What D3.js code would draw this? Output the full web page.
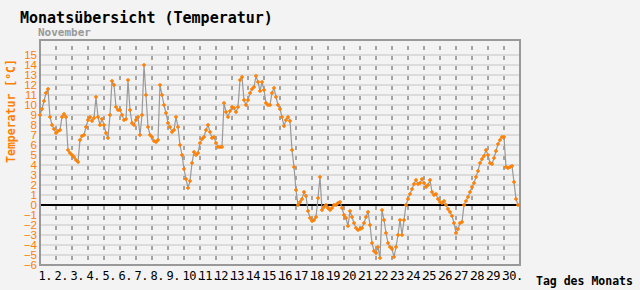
<!DOCTYPE html>
<html>
<head>
<meta charset="utf-8">
<script src="https://cdn.jsdelivr.net/npm/d3@7"></script>
<style>
  body { margin: 0; background: #f3f3f3; }
  svg { display: block; }
</style>
</head>
<body>
<script>
// Temperatur, 8 Werte pro Tag (alle 3 Stunden), November
var temps = [
  [9.0, 9.6, 10.4, 11.2, 11.6, 8.8, 8.0, 7.6],     // 1.
  [7.2, 7.4, 7.5, 8.8, 9.1, 8.8, 5.5, 5.2],        // 2.
  [5.0, 4.8, 4.5, 4.3, 6.5, 6.9, 7.0, 7.8],        // 3.
  [8.5, 8.8, 8.4, 8.7, 10.8, 8.8, 8.0, 8.6],       // 4.
  [8.0, 7.2, 6.7, 9.0, 12.4, 12.0, 9.8, 9.5],      // 5.
  [9.5, 9.0, 8.5, 8.6, 12.5, 9.5, 8.2, 8.0],       // 6.
  [8.5, 8.8, 7.0, 9.0, 14.0, 11.0, 7.8, 7.0],      // 7.
  [6.8, 6.4, 6.3, 6.5, 12.0, 11.0, 10.0, 9.2],     // 8.
  [8.2, 7.8, 7.3, 7.5, 8.8, 7.8, 6.0, 5.0],        // 9.
  [3.6, 2.6, 1.7, 2.4, 4.2, 5.3, 5.0, 5.2],        // 10.
  [6.2, 6.6, 6.8, 7.5, 8.0, 7.3, 6.7, 6.8],        // 11.
  [6.2, 5.8, 5.8, 5.8, 10.2, 9.3, 8.8, 9.4],       // 12.
  [9.8, 9.7, 9.3, 9.8, 12.5, 12.8, 10.5, 10.0],    // 13.
  [10.5, 11.2, 11.6, 11.8, 12.9, 12.3, 11.4, 12.3],// 14.
  [11.5, 10.2, 10.0, 10.0, 11.2, 11.7, 10.8, 10.0],// 15.
  [9.6, 8.8, 7.9, 8.5, 8.8, 8.4, 5.5, 3.8],        // 16.
  [1.5, 0.0, 0.3, 0.6, 1.3, 0.9, -0.6, -1.3],      // 17.
  [-1.6, -1.5, -1.2, 0.7, 2.8, -0.5, -0.2, 0.0],   // 18.
  [-0.3, -0.5, -0.3, 0.0, 0.0, 0.2, 0.3, -0.3],    // 19.
  [-1.0, -1.3, -2.1, -0.6, -1.2, -1.8, -2.3, -2.5],// 20.
  [-2.4, -2.3, -1.8, -1.2, -0.7, -2.0, -3.8, -4.6],// 21.
  [-4.8, -4.2, -5.3, -0.5, -1.5, -2.8, -3.8, -4.2],// 22.
  [-4.4, -5.2, -4.2, -3.0, -1.5, -3.0, -1.5, 0.0], // 23.
  [0.6, 1.1, 1.6, 2.1, 2.5, 2.1, 2.2, 2.6],        // 24.
  [2.2, 1.8, 2.0, 2.5, 1.3, 1.0, 1.1, 0.6],        // 25.
  [0.3, 0.2, 0.4, 0.0, -0.4, -0.7, -1.1, -1.8],    // 26.
  [-2.8, -2.4, -1.8, -1.7, 0.0, 0.4, 0.8, 1.3],    // 27.
  [1.8, 2.2, 2.8, 3.4, 4.2, 4.6, 4.9, 5.5],        // 28.
  [5.0, 4.2, 4.1, 4.7, 5.4, 6.1, 6.5, 6.8],        // 29.
  [6.8, 3.8, 3.7, 3.8, 3.9, 2.3, 0.6, 0.0]         // 30.
];

var days   = d3.range(1, 31);
var yTicks = d3.range(-6, 16);

var WIDTH  = 640;
var HEIGHT = 290;
var ORANGE = '#ff8000';

var svg = d3.select('body')
            .append('svg')
            .attr('width', WIDTH)
            .attr('height', HEIGHT)
            .style('background', '#f3f3f3');

var x = d3.scaleLinear()
          .domain([1, 31])
          .range([40, 520]);

var y = d3.scaleLinear()
          .domain([-6, 16.5])
          .range([265, 40]);

// punkte: tag + anteil
var points = [];
temps.forEach(function(row, i) {
    row.forEach(function(v, k) {
        points.push({ t: days[i] + k / row.length, v: v });
    });
});

// horizontale gitterlinien
svg.append('g')
   .selectAll('line')
   .data(yTicks)
   .enter()
 .append('line')
   .attr('x1', 40)
   .attr('x2', 520)
   .attr('y1', function(d) { return y(d); })
   .attr('y2', function(d) { return y(d); })
   .attr('stroke', '#c4c4c4')
   .attr('stroke-width', 1);

// gestrichelte tageslinien
svg.append('g')
   .selectAll('line')
   .data(days.slice(1))
   .enter()
 .append('line')
   .attr('x1', function(d) { return x(d); })
   .attr('x2', function(d) { return x(d); })
   .attr('y1', 40)
   .attr('y2', 265)
   .attr('stroke', '#555')
   .attr('stroke-width', 1)
   .attr('stroke-dasharray', '4,6')
   .attr('stroke-dashoffset', 4);

// nulllinie
svg.append('line')
   .attr('x1', 40)
   .attr('x2', 520)
   .attr('y1', y(0))
   .attr('y2', y(0))
   .attr('stroke', '#000')
   .attr('stroke-width', 2);

// rahmen
svg.append('rect')
   .attr('x', 40)
   .attr('y', 40)
   .attr('width', 480)
   .attr('height', 225)
   .attr('fill', 'none')
   .attr('stroke', '#999')
   .attr('stroke-width', 2);

var line = d3.line()
             .x(function(d) { return x(d.t); })
             .y(function(d) { return y(d.v); });

svg.append('path')
   .datum(points)
   .attr('d', line)
   .attr('fill', 'none')
   .attr('stroke', '#999')
   .attr('stroke-width', 1.2);

svg.append('g')
   .selectAll('path')
   .data(points)
   .enter()
 .append('path')
   .attr('d', 'M-2,0H2M0,-2V2')
   .attr('transform', function(d) { return 'translate(' + x(d.t) + ',' + y(d.v) + ')'; })
   .attr('stroke', ORANGE)
   .attr('stroke-width', 1.4)
   .attr('fill', 'none');

// y achse
var yAxis = svg.append('g')
               .attr('transform', 'translate(40,0)')
               .call(d3.axisLeft(y).tickValues(yTicks).tickSize(0).tickPadding(3));
yAxis.select('.domain').remove();
yAxis.selectAll('text')
     .attr('fill', ORANGE)
     .style('font-family', '"Liberation Sans", Arial, sans-serif')
     .style('font-size', '11.5px');

// x achse
var xAxis = svg.append('g')
               .attr('transform', 'translate(0,265)')
               .call(d3.axisBottom(x).tickValues(days).tickSize(0)
                       .tickFormat(function(d) { return d + '.'; }));
xAxis.select('.domain').remove();
xAxis.selectAll('text')
     .attr('y', 15)
     .attr('dy', 0)
     .attr('dx', -2)
     .attr('text-anchor', 'start')
     .attr('fill', '#000')
     .style('font-family', '"DejaVu Sans Mono", monospace')
     .style('font-size', '12px')
     .style('letter-spacing', '-0.5px');

// titel
svg.append('text')
   .attr('x', 20)
   .attr('y', 23)
   .style('font-family', '"DejaVu Sans Mono", monospace')
   .style('font-size', '15px')
   .style('font-weight', 'bold')
   .attr('fill', '#000')
   .text('Monatsübersicht (Temperatur)');

svg.append('text')
   .attr('x', 38)
   .attr('y', 36)
   .style('font-family', '"DejaVu Sans Mono", monospace')
   .style('font-size', '11px')
   .style('font-weight', 'bold')
   .attr('fill', '#999')
   .text('November');

svg.append('text')
   .attr('transform', 'translate(15,111) rotate(-90)')
   .attr('text-anchor', 'middle')
   .style('font-family', '"DejaVu Sans Mono", monospace')
   .style('font-size', '11.5px')
   .style('font-weight', 'bold')
   .attr('fill', ORANGE)
   .text('Temperatur [°C]');

svg.append('text')
   .attr('x', 536)
   .attr('y', 285)
   .style('font-family', '"DejaVu Sans Mono", monospace')
   .style('font-size', '11.5px')
   .style('font-weight', 'bold')
   .attr('fill', '#000')
   .text('Tag des Monats');
</script>
</body>
</html>
